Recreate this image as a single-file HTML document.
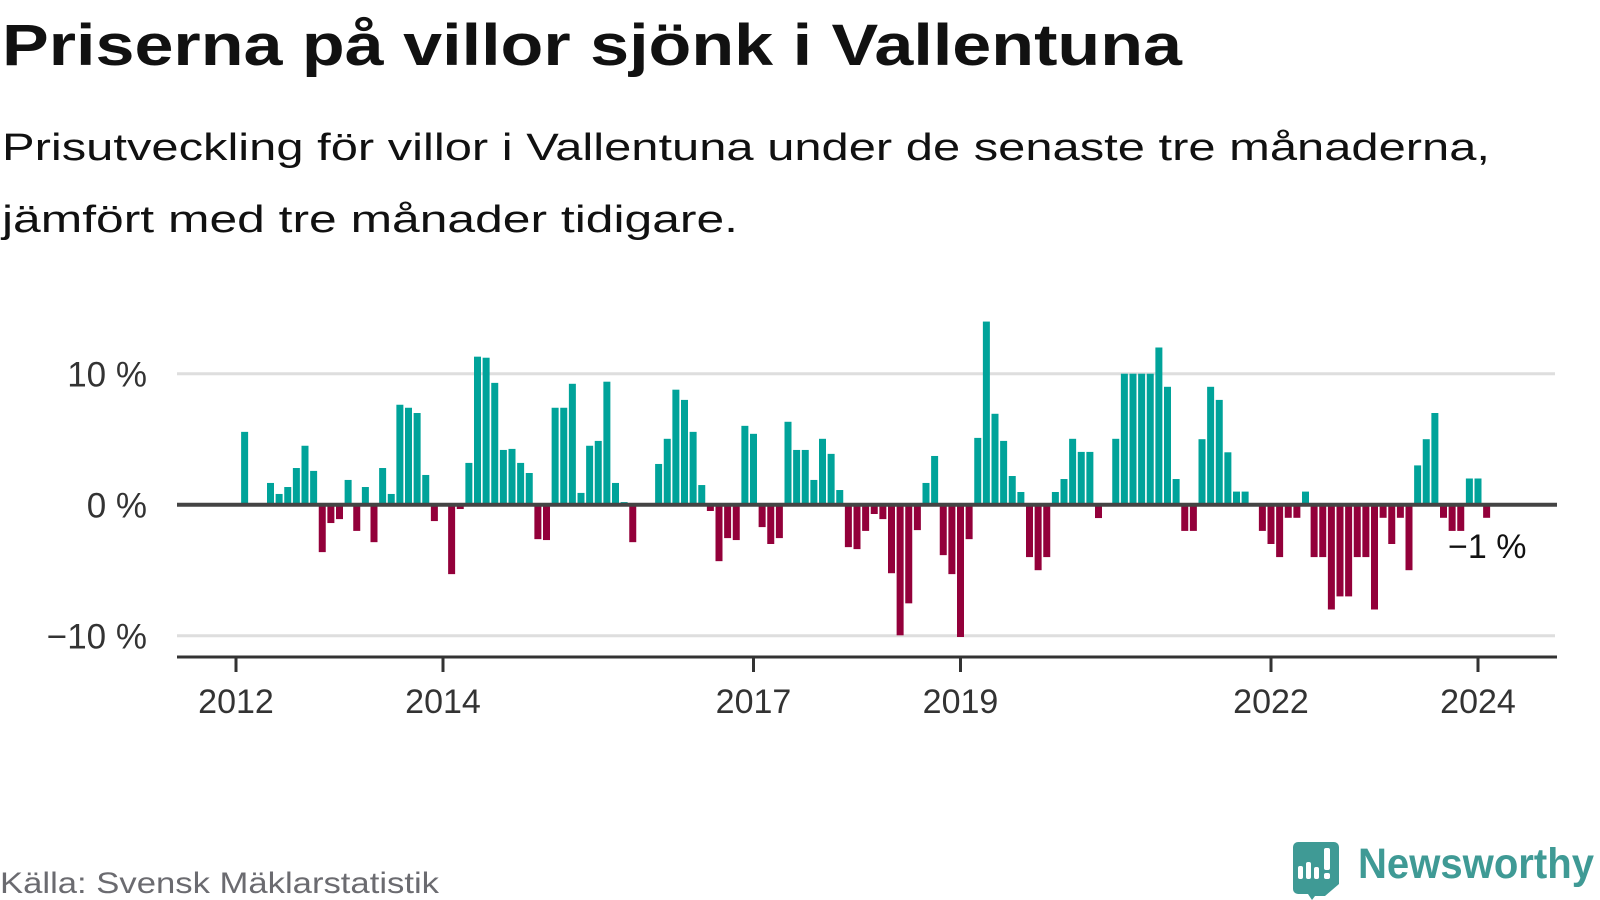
<!DOCTYPE html>
<html><head><meta charset="utf-8"><style>
html,body{margin:0;padding:0;background:#fff;}
svg{display:block;font-family:"Liberation Sans",sans-serif;}
</style></head><body>
<svg id="chart" width="1600" height="900" viewBox="0 0 1600 900">
<text x="2" y="65" font-size="58" font-weight="bold" fill="#111" textLength="1180" lengthAdjust="spacingAndGlyphs">Priserna på villor sjönk i Vallentuna</text>
<text x="2" y="160" font-size="38" fill="#111" textLength="1488" lengthAdjust="spacingAndGlyphs">Prisutveckling för villor i Vallentuna under de senaste tre månaderna,</text>
<text x="2" y="232" font-size="38" fill="#111" textLength="736" lengthAdjust="spacingAndGlyphs">jämfört med tre månader tidigare.</text>
<g id="grid"></g>
<g id="bars"></g>
<g id="axes"></g>
<text x="1448" y="558" font-size="34" fill="#111">−1 %</text>
<text x="0" y="893" font-size="30" fill="#6b6b70" textLength="439" lengthAdjust="spacingAndGlyphs">Källa: Svensk Mäklarstatistik</text>
<g>
<path d="M1294 842 h40 a5 5 0 0 1 5 5 v37 l-14 12 h-10 l-3 4 -4 -6 h-10 a5 5 0 0 1 -5 -5 v-42 a5 5 0 0 1 5 -5z" fill="#3f9a95"/>
<rect x="1298" y="866" width="5" height="13" rx="2" fill="#fff"/>
<rect x="1306" y="862" width="5" height="17" rx="2" fill="#fff"/>
<rect x="1314" y="867" width="5" height="12" rx="2" fill="#fff"/>
<rect x="1324" y="848" width="6" height="22" rx="2" fill="#fff"/>
<rect x="1324" y="873" width="6" height="6" rx="2" fill="#fff"/>
<text x="1358" y="878" font-size="43" font-weight="bold" fill="#3f9a95" textLength="236" lengthAdjust="spacingAndGlyphs">Newsworthy</text>
</g>
</svg>
<script>
const startYear = 2012;
const values = [
0,5.56,0,0,1.66,0.82,1.35,2.8,4.5,2.58,-3.62,-1.4,
-1.1,1.89,-2.0,1.35,-2.86,2.8,0.82,7.63,7.4,7.0,2.27,-1.25,
0,-5.3,-0.33,3.19,11.3,11.22,9.3,4.18,4.26,3.19,2.42,-2.63,
-2.7,7.4,7.4,9.23,0.9,4.5,4.87,9.39,1.66,0.2,-2.86,0,
0,3.11,5.03,8.78,8.0,5.56,1.5,-0.48,-4.31,-2.55,-2.7,6.02,
5.41,-1.71,-3.0,-2.55,6.33,4.18,4.18,1.89,5.03,3.88,1.12,-3.24,
-3.39,-2.0,-0.71,-1.1,-5.23,-9.97,-7.53,-1.94,1.66,3.72,-3.85,-5.3,
-10.1,-2.63,5.1,13.98,6.94,4.87,2.19,0.97,-4.0,-5.0,-4.0,0.97,
1.96,5.03,4.03,4.03,-1.02,0,5.03,10,10,10,10,12,
9.0,1.96,-2.0,-2.0,5.0,9,8,4,1,1,0,-2,
-3,-4,-1,-1,1,-4,-4,-8,-7,-7,-4,-4,
-8,-1,-3,-1,-5,3,5,7,-1,-2,-2,2,
2,-1];
const yTicks = [10, 0, -10];
const yTickLabels = ["10 %", "0 %", "−10 %"];
const xTickYears = [2012, 2014, 2017, 2019, 2022, 2024];

const NS = "http://www.w3.org/2000/svg";
const x0 = 236, monthW = 8.625, barW = 7;
const yZero = 504.7, pxPer = 13.1;
const xScale = i => x0 + i * monthW;
const yScale = v => yZero - v * pxPer;
function mk(tag, attrs, parent) {
  const e = document.createElementNS(NS, tag);
  for (const k in attrs) e.setAttribute(k, attrs[k]);
  parent.appendChild(e);
  return e;
}
const grid = document.getElementById('grid');
const bars = document.getElementById('bars');
const axes = document.getElementById('axes');
yTicks.forEach((t, k) => {
  if (t !== 0) {
    const l = mk('line', {x1: 177, x2: 1555, y1: yScale(t), y2: yScale(t), stroke: '#dedede', 'stroke-width': 3}, grid);
    
    
  }
  const tx = mk('text', {x: 147, y: yScale(t) + 13, 'font-size': 35, fill: '#333', 'text-anchor': 'end'}, axes);
  tx.textContent = yTickLabels[k];
  
  
});
values.forEach((v, i) => {
  if (v === 0) return;
  const cx = xScale(i);
  const y = v > 0 ? yScale(v) : yZero;
  const h = Math.abs(v) * pxPer;
  const r = mk('rect', {x: cx - barW / 2, y: y, width: barW, height: h, fill: v > 0 ? '#00a39a' : '#93003a'}, bars);
  
  
});
const zl = mk('line', {x1: 177, x2: 1557, y1: yZero, y2: yZero, stroke: '#444', 'stroke-width': 4}, axes);


const xa = mk('line', {x1: 177, x2: 1557, y1: 657, y2: 657, stroke: '#333', 'stroke-width': 3}, axes);


xTickYears.forEach(yr => {
  const x = xScale((yr - startYear) * 12);
  const tk = mk('line', {x1: x, x2: x, y1: 657, y2: 672, stroke: '#333', 'stroke-width': 3}, axes);
  
  
  const tx = mk('text', {x: x, y: 713, 'font-size': 34, fill: '#333', 'text-anchor': 'middle'}, axes);
  tx.textContent = String(yr);
  
  
});
</script>
</body></html>
